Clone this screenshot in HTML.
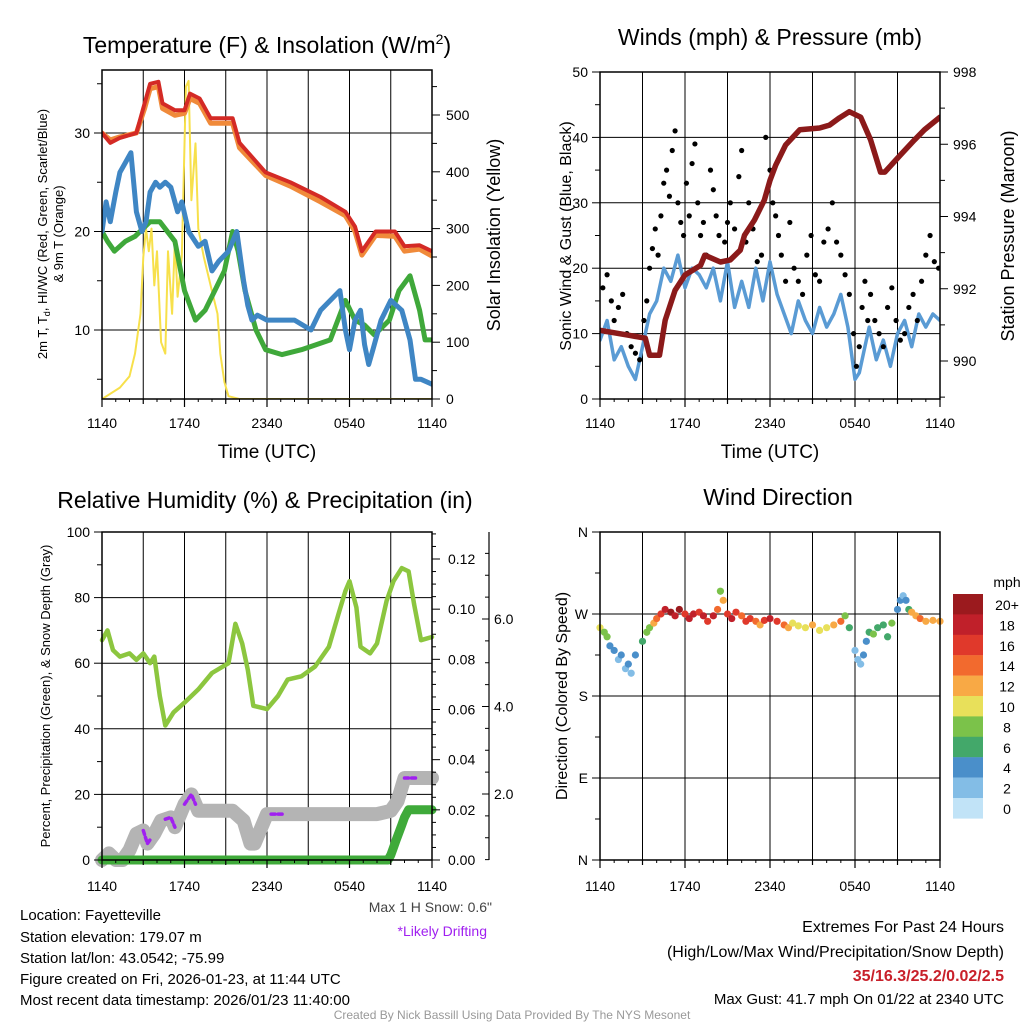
<!DOCTYPE html>
<html><head><meta charset="utf-8"><style>
html,body{margin:0;padding:0;background:#fff;}
svg{display:block;font-family:"Liberation Sans",Arial,sans-serif;}
</style></head><body>
<svg id="c" width="1024" height="1024" viewBox="0 0 1024 1024" xmlns="http://www.w3.org/2000/svg">
<rect width="1024" height="1024" fill="#fff"/>
<g id="grids"></g>
<g id="marks"></g>
<g id="axes" fill="none" stroke="#000"></g>
<g id="texts" fill="#000">
<text x="267" y="53" font-size="23" text-anchor="middle">Temperature (F) &amp; Insolation (W/m<tspan font-size="14" dy="-9">2</tspan><tspan dy="9">)</tspan></text>
<text x="770" y="45" font-size="23" text-anchor="middle">Winds (mph) &amp; Pressure (mb)</text>
<text x="265" y="508" font-size="23" text-anchor="middle">Relative Humidity (%) &amp; Precipitation (in)</text>
<text x="778" y="505" font-size="23" text-anchor="middle">Wind Direction</text>
<text transform="translate(47,234) rotate(-90)" font-size="13" text-anchor="middle">2m T, T<tspan font-size="9" dy="3">d</tspan><tspan dy="-3">, HI/WC (Red, Green, Scarlet/Blue)</tspan></text>
<text transform="translate(63,234) rotate(-90)" font-size="13" text-anchor="middle">&amp; 9m T (Orange)</text>
<text transform="translate(500,235) rotate(-90)" font-size="18" text-anchor="middle">Solar Insolation (Yellow)</text>
<text x="267" y="458" font-size="19" text-anchor="middle">Time (UTC)</text>
<text x="770" y="458" font-size="19" text-anchor="middle">Time (UTC)</text>
<text transform="translate(571,236) rotate(-90)" font-size="16" text-anchor="middle">Sonic Wind &amp; Gust (Blue, Black)</text>
<text transform="translate(1014,236) rotate(-90)" font-size="18" text-anchor="middle">Station Pressure (Maroon)</text>
<text transform="translate(50,696) rotate(-90)" font-size="13" text-anchor="middle">Percent, Precipitation (Green), &amp; Snow Depth (Gray)</text>
<text transform="translate(567,696) rotate(-90)" font-size="16" text-anchor="middle">Direction (Colored By Speed)</text>
<text x="492" y="912" font-size="14" fill="#444" text-anchor="end">Max 1 H Snow: 0.6"</text>
<text x="487" y="936" font-size="14" fill="#a020f0" text-anchor="end">*Likely Drifting</text>
<g font-size="15">
<text x="20" y="920">Location: Fayetteville</text>
<text x="20" y="942">Station elevation: 179.07 m</text>
<text x="20" y="963">Station lat/lon: 43.0542; -75.99</text>
<text x="20" y="984">Figure created on Fri, 2026-01-23, at 11:44 UTC</text>
<text x="20" y="1005">Most recent data timestamp: 2026/01/23 11:40:00</text>
</g>
<g font-size="16" text-anchor="end">
<text x="1004" y="932">Extremes For Past 24 Hours</text>
<text x="1004" y="957">(High/Low/Max Wind/Precipitation/Snow Depth)</text>
<text x="1004" y="981" fill="#c8202a" font-weight="bold">35/16.3/25.2/0.02/2.5</text>
<text x="1004" y="1004" font-size="15">Max Gust: 41.7 mph On 01/22 at 2340 UTC</text>
</g>
<text x="512" y="1019" font-size="12" fill="#999" text-anchor="middle">Created By Nick Bassill Using Data Provided By The NYS Mesonet</text>
</g>
</svg>
<script>
// ---------- DATA ----------
const xTickLabels = ["1140","1740","2340","0540","1140"];
// Panel 1
const redT = [0,0.6,1.3,2.5,3.1,3.5,4.1,4.4,5.3,6.0,6.4,7.1,7.9,9.5,10.0,11.9,13.7,15.9,17.7,18.4,18.9,19.9,21.3,22.0,23.1,24];
const redV = [30,29,29.5,30,33,35,35.2,33,32.3,32.3,34,33.5,31.5,31.5,29,26,25,23.5,22,20.5,18,20,20,18.5,18.6,18];
const orangeV = [30,29.3,29.6,30,32.5,34.5,34.7,32.5,31.8,32,33.5,33,31,31,28.5,25.7,24.6,23,21.6,20,17.6,19.6,19.5,18,18.2,17.5];
const blueT = [0,0.3,0.6,1.0,1.3,1.7,2.1,2.5,2.9,3.2,3.5,3.9,4.2,4.6,5.0,5.5,5.8,6.3,7.0,7.5,8.0,8.5,9.2,9.8,10.3,10.6,10.9,11.3,12.0,13.0,14.0,15.2,15.9,16.6,17.3,17.7,18.0,18.4,18.8,19.1,19.4,19.7,20.3,21.0,21.8,22.4,22.8,23.2,24];
const blueV = [20,23,21,24,26,27,28,22,20,21,24,25,24.5,25,24.5,22,23,20,18.5,19,16,17,18,20,15,12.5,11,11.5,11,11,11,10,12,13,14,10,8,11,12,8.5,6.5,8,11,13,12,9,5,5,4.5];
const greenT = [0,0.4,0.9,1.7,2.4,3.5,4.2,5.3,6.0,6.8,7.5,8.2,8.9,9.5,9.9,10.4,11.2,11.9,13.1,14.5,16.6,17.7,18.4,19.1,19.8,20.9,21.6,22.4,23.1,23.5,24];
const greenV = [20,19,18,19,19.5,21,21,19,14,11,12,14,16,20,18,14,10,8,7.5,8,9,13,11,10.5,9.5,11,14,15.5,12,9,9];
const solarT = [0,1.3,2.0,2.4,2.8,3.0,3.2,3.4,3.6,3.8,4.0,4.3,4.6,4.8,5.1,5.3,5.5,5.8,6.1,6.3,6.5,6.8,7.0,7.4,7.9,8.4,8.6,8.9,9.2,10,24];
const solarV = [0,20,40,80,150,250,300,260,300,200,260,100,80,260,150,280,180,250,550,560,350,450,300,250,200,150,80,30,5,0,0];
// Panel 2
const presT = [0,2.1,3.2,3.5,4.2,4.6,5.3,6,7.1,7.4,8.5,9.2,9.9,10.2,10.9,11.6,12,12.4,13.1,14.1,15.5,16.2,16.9,17.6,18.4,19.1,19.8,20.1,21.2,22.2,22.9,24];
const presV = [990.85,990.71,990.63,990.16,990.16,991.13,991.96,992.38,992.65,992.93,992.74,992.8,993.07,993.48,993.9,994.45,995.0,995.42,995.98,996.4,996.45,996.53,996.73,996.9,996.75,996.12,995.23,995.23,995.7,996.12,996.4,996.75];
const windT = [0,0.5,1,1.5,2,2.5,3,3.5,4,4.5,5,5.5,6,6.5,7,7.5,8,8.5,9,9.5,10,10.5,11,11.5,12,12.5,13,13.5,14,14.5,15,15.5,16,16.5,17,17.5,18,18.3,18.7,19,19.5,20,20.5,21,21.5,22,22.5,23,23.5,24];
const windV = [9,12,6,8,5,3,8,13,15,20,18,22,17,20,19,17,20,15,21,14,18,14,20,15,21,16,13,10,15,12,10,14,11,13,16,11,3,4,8,11,6,9,5,10,12,8,13,11,13,12];
const gustT = [0.2,0.5,0.8,1.0,1.3,1.6,1.9,2.2,2.5,2.8,3.1,3.3,3.5,3.7,3.9,4.1,4.3,4.5,4.7,4.9,5.1,5.3,5.5,5.7,5.9,6.1,6.3,6.5,6.7,6.9,7.1,7.3,7.5,7.8,8.0,8.2,8.4,8.6,8.8,9.0,9.2,9.5,9.8,10.0,10.3,10.5,10.8,11.1,11.4,11.7,12.0,12.2,12.4,12.6,12.8,13.1,13.4,13.7,14.0,14.3,14.6,14.9,15.2,15.5,15.8,16.1,16.4,16.7,17.0,17.3,17.6,17.9,18.1,18.3,18.5,18.7,18.9,19.1,19.4,19.7,20.0,20.3,20.6,20.9,21.2,21.5,21.8,22.1,22.4,22.7,23.0,23.3,23.6,23.9];
const gustV = [17,19,15,12,14,16,10,8,7,6,12,15,20,23,26,22,28,33,35,31,38,41,30,27,25,33,28,36,39,30,25,27,22,35,32,28,25,21,24,27,30,26,34,38,24,30,26,21,22,40,35,30,28,25,22,18,27,20,18,16,22,25,19,18,24,26,30,24,22,19,16,10,5,8,14,18,12,16,12,10,8,14,17,12,9,10,14,16,12,18,22,25,21,20];
// Panel 3
const rhT = [0,0.4,0.8,1.3,2,2.5,3,3.5,3.8,4.2,4.6,5.2,6,7,8,9.2,9.7,10.2,10.6,11,12,12.8,13.5,14.5,15.5,16.5,17.2,17.7,18,18.5,18.8,19.5,20,20.7,21.2,21.8,22.3,22.7,23.2,24];
const rhV = [67,70,64,62,63,61,63,60,62,50,41,45,48,52,57,60,72,66,58,47,46,50,55,56,59,65,75,82,85,77,65,63,66,79,85,89,88,78,67,68];
const snowT = [0,0.5,1.0,1.5,2.0,2.5,3.0,3.3,3.8,4.3,5.0,5.3,6.0,6.5,7.0,9.5,10.3,10.8,11.1,12.0,20.0,21.0,21.5,22.0,23.0,24];
const snowV = [0,2,0,0,3,8,9,5,8,12,13,10,17,20,15,15,12,5,5,14,14,15,18,25,25,25];
const driftT = [[3.0,3.6],[4.6,5.3],[6.0,6.8],[12.3,13.2],[22.0,23.0]];
const precipT = [0,20.8,21.0,21.2,21.4,21.6,21.8,22.0,22.3,24];
const precipV = [0,0,0.002,0.005,0.008,0.011,0.014,0.017,0.02,0.02];
// Panel 4
const dirT = [0,0.3,0.5,0.7,1,1.3,1.5,1.8,2,2.2,2.5,3,3.3,3.5,3.8,4,4.3,4.6,5,5.3,5.6,6,6.3,6.6,7,7.3,7.6,8,8.3,8.5,8.7,9,9.3,9.6,10,10.3,10.6,11,11.3,11.6,12,12.5,13,13.3,13.6,14,14.5,15,15.5,16,16.5,17,17.3,17.6,18,18.2,18.4,18.6,18.8,19,19.3,19.6,20,20.3,20.6,21,21.2,21.4,21.6,21.8,22,22.3,22.6,23,23.5,24];
const dirV = [255,250,245,235,230,220,225,210,215,205,225,240,250,255,260,265,270,275,272,268,275,270,265,270,272,268,262,268,275,295,285,270,265,272,268,262,265,262,258,263,265,262,258,255,260,257,255,258,252,255,258,262,268,255,230,220,215,225,240,250,248,255,258,245,260,275,285,290,285,275,272,268,265,262,263,262];
const dirSpd = [10,9,8,5,4,3,4,3,4,3,5,7,8,9,12,15,17,19,20,18,21,17,19,18,17,19,16,18,14,8,12,16,18,17,15,17,16,15,13,16,18,17,14,12,11,10,11,12,10,11,13,14,8,6,3,3,2,4,5,7,8,7,6,7,9,4,4,3,5,7,12,13,14,12,13,13];
const cbLabels = ["20+","18","16","14","12","10","8","6","4","2","0"];
const cbColors = ["#9b1a1e","#c0202a","#e0392b","#f26a2e","#f8a945","#e8e05a","#7bc24a","#43a86a","#4a8fca","#83bde6","#c1e3f7"];

// ---------- helpers ----------
const NS="http://www.w3.org/2000/svg";
const G=document.getElementById('grids'),M=document.getElementById('marks'),A=document.getElementById('axes'),T=document.getElementById('texts');
function mk(tag,attrs,parent){const e=document.createElementNS(NS,tag);for(const k in attrs)e.setAttribute(k,attrs[k]);parent.appendChild(e);return e;}
function lin(d0,d1,r0,r1){return v=>r0+(v-d0)*(r1-r0)/(d1-d0);}
function pathOf(ts,vs,sx,sy){return ts.map((t,i)=>(i?'L':'M')+sx(t).toFixed(1)+','+sy(vs[i]).toFixed(1)).join('');}
function txt(x,y,s,size,anchor,parent){const e=mk('text',{x:x,y:y,'font-size':size,'text-anchor':anchor||'middle'},parent||T);e.textContent=s;return e;}

function frame(x0,x1,y0,y1,name){
  const r=mk('rect',{x:x0,y:y0,width:x1-x0,height:y1-y0,'stroke-width':1.5},A);
  
  
}
function xAxis(x0,x1,yb,labY,name){
  const sx=lin(0,24,x0,x1);
  for(let h=0;h<=24;h+=3){
    mk('line',{x1:sx(h),x2:sx(h),y1:yb,y2:yb+(h%6==0?8:5),'stroke-width':1.2},A);
  }
  for(let h=1;h<24;h++) if(h%3) mk('line',{x1:sx(h),x2:sx(h),y1:yb,y2:yb+3,'stroke-width':1},A);
  xTickLabels.forEach((l,i)=>{const e=txt(sx(i*6),labY,l,14);
    
    });
  return sx;
}
function clipGrid(id,x0,x1,y0,y1){const cp=mk('clipPath',{id:id},G);mk('rect',{x:x0,y:y0,width:x1-x0,height:y1-y0},cp);}

// ---------- Panel 1 ----------
(function(){
  const x0=102,x1=432,y0=70,y1=399;
  clipGrid('cp1',x0,x1,y0,y1);
  const gg=mk('g',{'clip-path':'url(#cp1)'},G);
  const sx=lin(0,24,x0,x1), sy=lin(10,30,330,133), sr=lin(0,500,399,115);
  [10,20,30].forEach(v=>mk('line',{x1:x0,x2:x1,y1:sy(v),y2:sy(v),stroke:'#000','stroke-width':1},gg));
  for(let h=3;h<24;h+=3) mk('line',{x1:sx(h),x2:sx(h),y1:y0,y2:y1,stroke:'#000','stroke-width':1},gg);
  const mg=mk('g',{'clip-path':'url(#cp1)',fill:'none','stroke-linejoin':'round','stroke-linecap':'round'},M);
  let p;
  p=mk('path',{d:pathOf(solarT,solarV,sx,sr),stroke:'#f7e04b','stroke-width':2},mg);
  
  
  p=mk('path',{d:pathOf(greenT,greenV,sx,sy),stroke:'#3fa83a','stroke-width':5},mg);
  
  
  p=mk('path',{d:pathOf(blueT,blueV,sx,sy),stroke:'#3f86c4','stroke-width':5},mg);
  
  
  p=mk('path',{d:pathOf(redT,orangeV,sx,sy),stroke:'#f08a3a','stroke-width':5},mg);
  
  
  p=mk('path',{d:pathOf(redT,redV,sx,sy),stroke:'#d42a25','stroke-width':4},mg);
  
  
  frame(x0,x1,y0,y1,'temperature-plot-frame');
  for(let v=5;v<=35;v+=5){const maj=v%10==0;mk('line',{x1:x0,x2:x0-(maj?8:5),y1:sy(v),y2:sy(v)},A);
    if(maj){const e=txt(x0-12,sy(v)+5,String(v),14,'end');
      
      }}
  for(let v=0;v<=550;v+=50){const maj=v%100==0;mk('line',{x1:x1,x2:x1+(maj?8:5),y1:sr(v),y2:sr(v)},A);
    if(maj){const e=txt(x1+14,sr(v)+5,String(v),14,'start');
      
      }}
  xAxis(x0,x1,y1,428,'temperature-x');
})();

// ---------- Panel 2 ----------
(function(){
  const x0=600,x1=940,y0=72,y1=399;
  clipGrid('cp2',x0,x1,y0,y1);
  const gg=mk('g',{'clip-path':'url(#cp2)'},G);
  const sx=lin(0,24,x0,x1), sy=lin(0,50,y1,y0), sp=lin(990,998,361,72);
  [10,20,30,40].forEach(v=>mk('line',{x1:x0,x2:x1,y1:sy(v),y2:sy(v),stroke:'#000','stroke-width':1},gg));
  for(let h=3;h<24;h+=3) mk('line',{x1:sx(h),x2:sx(h),y1:y0,y2:y1,stroke:'#000','stroke-width':1},gg);
  const mg=mk('g',{'clip-path':'url(#cp2)',fill:'none','stroke-linejoin':'round','stroke-linecap':'round'},M);
  let p=mk('path',{d:pathOf(windT,windV,sx,sy),stroke:'#5a9bd4','stroke-width':3.5},mg);
  
  
  gustT.forEach((t,i)=>{const c=mk('circle',{cx:sx(t),cy:sy(gustV[i]),r:2.6,fill:'#000'},mg);
    
    });
  p=mk('path',{d:pathOf(presT,presV,sx,sp),stroke:'#8b1a1a','stroke-width':5.5},mg);
  
  
  frame(x0,x1,y0,y1,'winds-plot-frame');
  for(let v=0;v<=50;v+=5){const maj=v%10==0;mk('line',{x1:x0,x2:x0-(maj?8:5),y1:sy(v),y2:sy(v)},A);
    if(maj){const e=txt(x0-12,sy(v)+5,String(v),14,'end');
      
      }}
  for(let v=989;v<=998;v+=1){const maj=v%2==0;mk('line',{x1:x1,x2:x1+(maj?8:5),y1:sp(v),y2:sp(v)},A);
    if(maj){const e=txt(x1+13,sp(v)+5,String(v),14,'start');
      
      }}
  xAxis(x0,x1,y1,428,'winds-x');
})();

// ---------- Panel 3 ----------
(function(){
  const x0=102,x1=432,y0=532,y1=860;
  clipGrid('cp3',x0,x1,y0,y1);
  const gg=mk('g',{'clip-path':'url(#cp3)'},G);
  const sx=lin(0,24,x0,x1), sy=lin(0,100,y1,y0), sprc=lin(0,0.12,860,559), ssn=lin(2,6,794,619);
  [20,40,60,80].forEach(v=>mk('line',{x1:x0,x2:x1,y1:sy(v),y2:sy(v),stroke:'#000','stroke-width':1},gg));
  for(let h=3;h<24;h+=3) mk('line',{x1:sx(h),x2:sx(h),y1:y0,y2:y1,stroke:'#000','stroke-width':1},gg);
  const mg=mk('g',{fill:'none','stroke-linejoin':'round','stroke-linecap':'round'},M);
  let p=mk('path',{d:pathOf(snowT,snowV,sx,sy),stroke:'#b4b4b4','stroke-width':14},mg);
  
  
  driftT.forEach(seg=>{const ts=snowT.filter(t=>t>seg[0]&&t<seg[1]);
    const all=[seg[0]].concat(ts,[seg[1]]);
    const interp=t=>{for(let i=1;i<snowT.length;i++)if(t<=snowT[i]){const f=(t-snowT[i-1])/(snowT[i]-snowT[i-1]);return snowV[i-1]+f*(snowV[i]-snowV[i-1]);}return snowV[snowV.length-1];};
    const q=mk('path',{d:pathOf(all,all.map(interp),sx,sy),stroke:'#a020f0','stroke-width':3.5,'stroke-dasharray':'4 3'},mg);
    
    });
  p=mk('path',{d:pathOf(precipT,precipV,sx,sprc),stroke:'#3faa3a','stroke-width':9},mg);
  
  
  p=mk('path',{d:pathOf(rhT,rhV,sx,sy),stroke:'#8cc63f','stroke-width':4.5},mg);
  
  
  frame(x0,x1,y0,y1,'humidity-plot-frame');
  for(let v=0;v<=100;v+=10){const maj=v%20==0;mk('line',{x1:x0,x2:x0-(maj?8:5),y1:sy(v),y2:sy(v)},A);
    if(maj){const e=txt(x0-12,sy(v)+5,String(v),14,'end');
      
      }}
  for(let k=0;k<=26;k++){const v=k*0.005;const maj=k%4==0;mk('line',{x1:x1,x2:x1+(maj?8:4),y1:sprc(v),y2:sprc(v)},A);
    if(maj){const e=txt(x1+16,sprc(v)+5,v.toFixed(2),14,'start');
      
      }}
  mk('line',{x1:489,x2:489,y1:y0,y2:y1,'stroke-width':1.2},A);
  for(let k=0;k<=15;k++){const v=k*0.5;const y=ssn(v);if(y<y0||y>y1)continue;const maj=k%4==0;mk('line',{x1:489,x2:489-(maj?7:4),y1:y,y2:y},A);
    if(maj&&v>0){const e=txt(494,y+5,v.toFixed(1),14,'start');
      
      }}
  xAxis(x0,x1,y1,891,'humidity-x');
})();

// ---------- Panel 4 ----------
(function(){
  const x0=600,x1=940,y0=532,y1=860;
  clipGrid('cp4',x0,x1,y0,y1);
  const gg=mk('g',{'clip-path':'url(#cp4)'},G);
  const sx=lin(0,24,x0,x1), sy=lin(0,360,y1,y0);
  [90,180,270].forEach(v=>mk('line',{x1:x0,x2:x1,y1:sy(v),y2:sy(v),stroke:'#000','stroke-width':1},gg));
  for(let h=3;h<24;h+=3) mk('line',{x1:sx(h),x2:sx(h),y1:y0,y2:y1,stroke:'#000','stroke-width':1},gg);
  const mg=mk('g',{},M);
  dirT.forEach((t,i)=>{const idx=Math.max(0,10-Math.min(10,Math.floor(dirSpd[i]/2)));
    const c=mk('circle',{cx:sx(t),cy:sy(dirV[i]),r:3.6,fill:cbColors[idx]},mg);
    
    });
  frame(x0,x1,y0,y1,'direction-plot-frame');
  ["N","E","S","W","N"].forEach((l,i)=>{const v=i*90;mk('line',{x1:x0,x2:x0-8,y1:sy(v),y2:sy(v)},A);
    const e=txt(x0-12,sy(v)+5,l,14,'end');
    
    });
  for(let v=45;v<360;v+=90) mk('line',{x1:x0,x2:x0-5,y1:sy(v),y2:sy(v)},A);
  xAxis(x0,x1,y1,891,'direction-x');
  const cb=mk('g',{},T);
  
  
  txt(1007,587,'mph',14,'middle',cb);
  cbLabels.forEach((l,i)=>{const y=594+i*20.4;
    const r=mk('rect',{x:953,y:y,width:30,height:20.6,fill:cbColors[i]},cb);
    
    
    const e=txt(1007,y+16,l,14,'middle',cb);
    
    });
})();
</script>
</body></html>
